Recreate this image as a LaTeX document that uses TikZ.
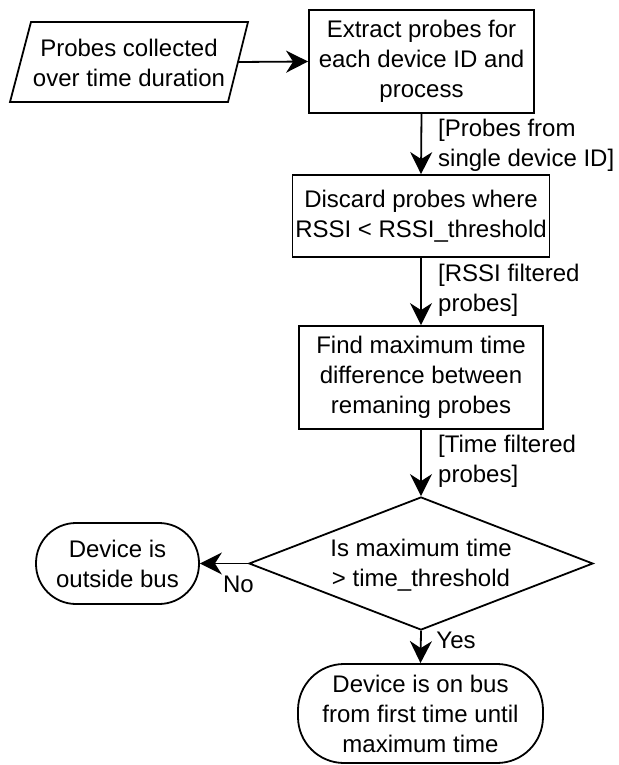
\documentclass[tikz,border=0pt]{standalone}
\usepackage{fontspec}
\setmainfont{Liberation Sans}
\usetikzlibrary{arrows.meta,shapes.geometric}
\begin{document}
\begin{tikzpicture}[x=1pt,y=-1pt,
  every node/.style={font=\fontsize{24}{30}\selectfont},
  box/.style={draw, line width=1.8pt, rectangle, align=center, inner sep=0pt},
  term/.style={draw, line width=1.8pt, rectangle, align=center, inner sep=0pt},
  lbl/.style={align=left, anchor=west, inner sep=0pt},
  arr/.style={line width=1.8pt, -{Stealth[length=22pt 0 0,width=22pt 0,inset=7pt 0]}},
  txt/.style={align=center, inner sep=0pt}]
\useasboundingbox (0,0) rectangle (618,765);
% input parallelogram
\draw[line width=1.8pt] (31,22) -- (248,22) -- (228,102) -- (10,102) -- cycle;
\node[txt] (in) at (129,63) {Probes collected\\over time duration};
\coordinate (inr) at (238.3,62);
% process boxes
\node[box, minimum width=225pt, minimum height=103pt] (r1) at (421.5,61.5) {Extract probes for\\each device ID and\\process};
\node[box, minimum width=257pt, minimum height=82pt] (r2) at (421,216) {Discard probes where\\RSSI < RSSI\_threshold};
\node[box, minimum width=244pt, minimum height=103pt] (r3) at (421,377.5) {Find maximum time\\difference between\\remaning probes};
% decision
\node[draw, line width=1.8pt, diamond, minimum width=344pt, minimum height=133pt, inner sep=0pt] (d) at (421,563.5) {};
\node[txt] (dt) at (421,565.5) {Is maximum time\\> time\_threshold};
% terminals
\node[term, rounded corners=40pt, minimum width=163pt, minimum height=81pt] (t1) at (117.5,563.5) {Device is\\outside bus};
\node[term, rounded corners=46pt, minimum width=245pt, minimum height=99pt] (t2) at (420.5,713.5) {Device is on bus\\from first time until\\maximum time};
% edge labels
\node[lbl] (l1) at (438,145) {[Probes from\\single device ID]};
\node[lbl] (l2) at (438,290.5) {[RSSI filtered\\probes]};
\node[lbl] (l3) at (438,461) {[Time filtered\\probes]};
\node[inner sep=0pt] (no) at (238.5,584) {No};
\node[inner sep=0pt] (yes) at (456,640) {Yes};
% connectors
\draw[arr] (inr) -- (r1.west);
\draw[arr] (r1.south) -- (r2.north);
\draw[arr] (r2.south) -- (r3.north);
\draw[arr] (r3.south) -- (d.north);
\draw[arr] (d.west) -- (t1.east);
\draw[arr] (d.south) -- (t2.north);
\end{tikzpicture}
\end{document}
